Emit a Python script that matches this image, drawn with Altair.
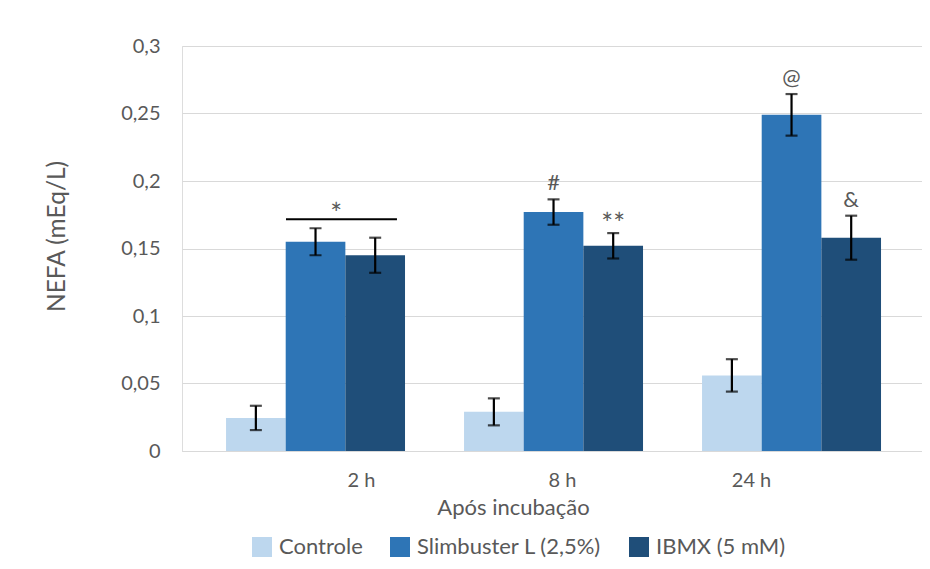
import altair as alt
import pandas as pd

categories = ["2 h", "8 h", "24 h"]
series = ["Controle", "Slimbuster L (2,5%)", "IBMX (5 mM)"]
colors = ["#BDD7EE", "#2E75B6", "#1F4E79"]

controle = [0.0245, 0.029, 0.056]
slimbuster = [0.155, 0.177, 0.249]
ibmx = [0.145, 0.152, 0.158]

controle_err = [0.009, 0.010, 0.012]
slimbuster_err = [0.010, 0.0094, 0.0154]
ibmx_err = [0.013, 0.0094, 0.0163]

slimbuster_ann = ["", "#", "@"]
ibmx_ann = ["", "**", "&"]

bracket_cat = ["2 h"]
bracket_level = [0.1716]
bracket_label = ["*"]

rows = []
for i, c in enumerate(categories):
    for s, m, e, a in [
        (series[0], controle[i], controle_err[i], ""),
        (series[1], slimbuster[i], slimbuster_err[i], slimbuster_ann[i]),
        (series[2], ibmx[i], ibmx_err[i], ibmx_ann[i]),
    ]:
        rows.append({"cat": c, "series": s, "mean": m, "lo": m - e, "hi": m + e, "ann": a})
df = pd.DataFrame(rows)
bdf = pd.DataFrame({"cat": bracket_cat, "level": bracket_level, "label": bracket_label})

FONT = "Lato"
GREY = "#595959"

xscale = alt.Scale(paddingInner=0.248, paddingOuter=0.1786, align=0.518)
yscale = alt.Scale(domain=[0, 0.3])

x_axis = alt.Axis(
    title="Após incubação", labelAngle=0, domainColor="#D9D9D9", domainWidth=1,
    ticks=False, labelPadding=19, labelFontSize=20, labelColor=GREY, labelFont=FONT,
    labelOffset={"condition": [{"test": "datum.value === '2 h'", "value": 46},
                               {"test": "datum.value === '24 h'", "value": -40}],
                 "value": 9},
    titleX=331, titleY=56, titleBaseline="middle", titleAlign="center",
    titleFontSize=22, titleFontWeight="normal", titleColor=GREY, titleFont=FONT,
)
y_axis = alt.Axis(
    values=[0, 0.05, 0.1, 0.15, 0.2, 0.25, 0.3],
    labelExpr="replace(format(datum.value, '~g'), '.', ',')",
    grid=True, gridColor="#D9D9D9", domain=False, ticks=False, labelPadding=22,
    labelFontSize=20, labelColor=GREY, labelFont=FONT,
    title="NEFA (mEq/L)", titleFont=FONT, titleFontSize=24.5, titleFontWeight="normal",
    titleColor=GREY, titleX=-125, titleY=190, titleAngle=270, titleAlign="center",
    titleBaseline="middle",
)

base = alt.Chart(df).encode(
    x=alt.X("cat:N", sort=categories, scale=xscale, axis=x_axis),
    xOffset=alt.XOffset("series:N", sort=series, scale=alt.Scale(paddingInner=0, paddingOuter=0)),
)

bars = base.mark_bar().encode(
    y=alt.Y("mean:Q", scale=yscale, axis=y_axis),
    color=alt.Color(
        "series:N", sort=series, scale=alt.Scale(domain=series, range=colors),
        legend=alt.Legend(
            title=None, orient="none", legendX=69, legendY=490, direction="horizontal",
            symbolType="square", symbolSize=400, symbolStrokeWidth=0, symbolOpacity=1,
            labelFontSize=22, labelColor=GREY, labelFont=FONT, labelOffset=6,
            labelLimit=0, columnPadding=26, padding=0,
        ),
    ),
)

err_rule = base.mark_rule(color="black", strokeWidth=2.2).encode(y="lo:Q", y2="hi:Q")
cap_lo = base.mark_tick(color="black", thickness=2.2, size=12).encode(y="lo:Q")
cap_hi = base.mark_tick(color="black", thickness=2.2, size=12).encode(y="hi:Q")

ann = base.transform_filter("datum.ann != '' && indexof(datum.ann, '*') < 0").mark_text(
    dy=-9, fontSize=22, color=GREY, font=FONT, baseline="alphabetic"
).encode(y="hi:Q", text="ann:N")

ann_star = base.transform_filter("indexof(datum.ann, '*') >= 0").mark_text(
    dy=1, fontSize=28, color=GREY, font=FONT, baseline="alphabetic"
).encode(y="hi:Q", text="ann:N")

bracket = alt.Chart(bdf).mark_rule(strokeWidth=2, color="black").encode(
    x=alt.X("cat:N", sort=categories, bandPosition=0.335),
    x2=alt.X2("cat", bandPosition=0.955),
    y=alt.Y("level:Q"),
)
bracket_text = alt.Chart(bdf).mark_text(
    dy=5, fontSize=28, color=GREY, font=FONT, baseline="alphabetic"
).encode(
    x=alt.X("cat:N", sort=categories, bandPosition=0.615),
    y=alt.Y("level:Q"),
    text="label:N",
)

chart = alt.layer(bars, err_rule, cap_lo, cap_hi, ann, ann_star, bracket, bracket_text).properties(
    width=740, height=405,
    autosize=alt.AutoSizeParams(type="none"),
    padding={"left": 174, "top": 38, "right": 0, "bottom": 110},
).configure_view(strokeWidth=0).configure(background="white")

chart.save("out.html", embed_options={"renderer": "svg", "actions": False})
